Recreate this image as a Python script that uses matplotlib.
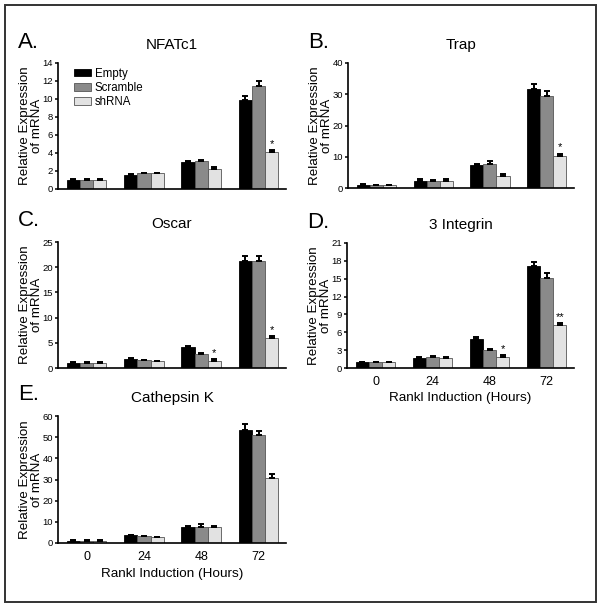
import matplotlib.pyplot as plt
import numpy as np
from matplotlib.patches import Rectangle

plt.rcParams['font.family'] = ['Liberation Sans', 'DejaVu Sans']

hours = ['0', '24', '48', '72']
groups = ['Empty', 'Scramble', 'shRNA']
colors = ['#000000', '#8a8a8a', '#e2e2e2']

# values per group: Empty, Scramble, shRNA at 0/24/48/72 h
nfatc1 = [[0.95, 1.55, 2.95, 9.9], [0.95, 1.75, 3.15, 11.5], [0.95, 1.75, 2.25, 4.1]]
nfatc1_err = [[0.15, 0.12, 0.2, 0.45], [0.12, 0.08, 0.12, 0.55], [0.12, 0.08, 0.2, 0.2]]
trap = [[1.0, 2.35, 7.3, 31.7], [1.0, 2.3, 7.8, 29.5], [1.0, 2.35, 3.9, 10.3]]
trap_err = [[0.15, 0.4, 0.4, 1.7], [0.1, 0.2, 0.8, 1.6], [0.1, 0.4, 0.5, 0.7]]
oscar = [[1.0, 1.85, 4.1, 21.2], [1.0, 1.6, 2.8, 21.3], [1.0, 1.4, 1.4, 6.0]]
oscar_err = [[0.25, 0.05, 0.2, 1.0], [0.2, 0.05, 0.2, 1.0], [0.2, 0.05, 0.3, 0.3]]
integrin = [[1.0, 1.75, 4.8, 17.1], [1.0, 1.8, 3.1, 15.1], [1.0, 1.6, 1.9, 7.25]]
integrin_err = [[0.05, 0.1, 0.35, 0.75], [0.05, 0.15, 0.15, 0.85], [0.05, 0.2, 0.25, 0.25]]
cathk = [[1.1, 3.6, 7.7, 53.6], [1.1, 3.2, 7.6, 50.8], [1.1, 2.7, 7.4, 30.5]]
cathk_err = [[0.1, 0.4, 0.5, 2.7], [0.1, 0.1, 1.2, 2.3], [0.1, 0.1, 0.5, 1.9]]

panels = [
    # letter, title, data, err, yticks, stars (hour index -> text), axes box (l, t, r, b) in px, show x
    ('A.', 'NFATc1', nfatc1, nfatc1_err, np.arange(0, 15, 2), {3: '*'}, (58, 63, 286, 189), False),
    ('B.', 'Trap', trap, trap_err, np.arange(0, 41, 10), {3: '*'}, (348, 63, 574, 188), False),
    ('C.', 'Oscar', oscar, oscar_err, np.arange(0, 26, 5), {2: '*', 3: '*'}, (58, 242, 286, 368), False),
    ('D.', '3 Integrin', integrin, integrin_err, np.arange(0, 22, 3), {2: '*', 3: '**'}, (347, 243, 574, 368), True),
    ('E.', 'Cathepsin K', cathk, cathk_err, np.arange(0, 61, 10), {}, (58, 416, 286, 543), True),
]

W, H = 601, 607
fig = plt.figure(figsize=(W / 100, H / 100), dpi=100)
fig.patches.append(Rectangle((5 / W, 5 / H), 591 / W, 597 / H, transform=fig.transFigure,
                             fill=False, edgecolor='#333333', linewidth=1.4))

x = np.arange(len(hours))
bw = 0.23

for letter, title, data, err, yt, stars, box, showx in panels:
    l, t, r, b = box
    ax = fig.add_axes([l / W, 1 - b / H, (r - l) / W, (b - t) / H])
    for i, g in enumerate(groups):
        xs = x + (i - 1) * bw
        ax.bar(xs, data[i], bw, color=colors[i], edgecolor='#555555' if i else 'black',
               linewidth=0.6, label=g, zorder=2)
        ax.errorbar(xs, data[i], yerr=[np.zeros(4), err[i]], fmt='none', ecolor='black',
                    elinewidth=1.4, capsize=2.4, capthick=1.4, zorder=3)
    top = yt[-1]
    for k, s in stars.items():
        ax.text(x[k] + bw, data[2][k] + err[2][k] + top * 0.01, s, ha='center', va='bottom',
                fontsize=8)
    ax.set_ylim(0, top)
    ax.set_yticks(yt)
    ax.set_xlim(-0.5, 3.48)
    ax.spines[['top', 'right']].set_visible(False)
    ax.spines[['left', 'bottom']].set_linewidth(1.2)
    ax.tick_params(axis='y', labelsize=6.8, length=2.5, width=1.1, pad=1)
    ax.set_xticks(x)
    if showx:
        ax.set_xticklabels(hours, fontsize=9)
        ax.tick_params(axis='x', length=0, pad=6)
        ax.set_xlabel('Rankl Induction (Hours)', fontsize=9.7, labelpad=3)
    else:
        ax.tick_params(axis='x', length=0, labelbottom=False)
    ax.set_ylabel('Relative Expression\nof mRNA', fontsize=9.6, labelpad=0, linespacing=1.0)
    ax.set_title(title, fontsize=11, pad=10)
    fig.text((l - 40) / W, 1 - (t - 21) / H, letter, fontsize=16, ha='left', va='center')
    if letter == 'A.':
        ax.legend(loc='upper left', bbox_to_anchor=(0.05, 1.0), frameon=False, fontsize=8.3,
                  handlelength=1.5, handleheight=0.6, handletextpad=0.3, labelspacing=0.2,
                  borderaxespad=0.0)

fig.savefig('out.png', dpi=100)
